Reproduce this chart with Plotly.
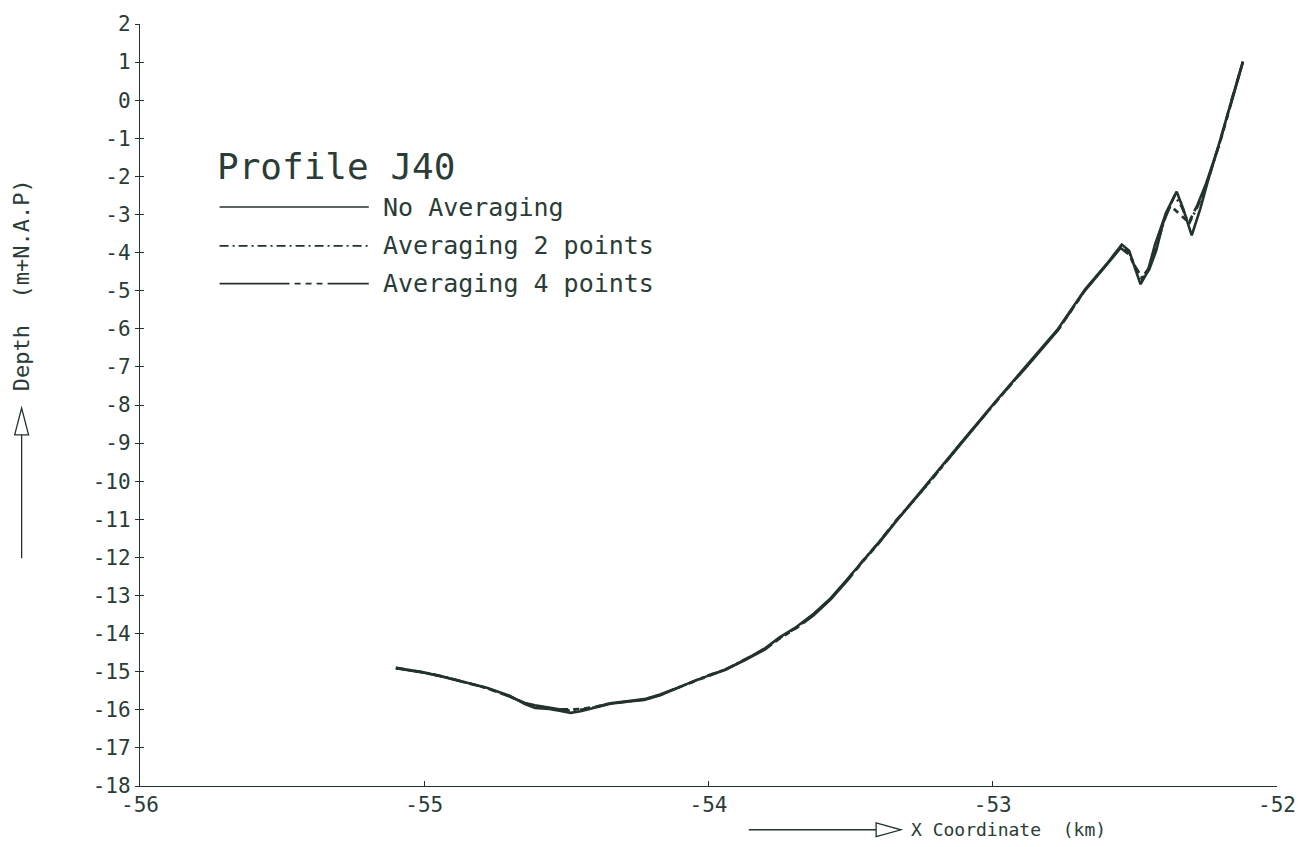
import plotly.graph_objects as go

# Profile J40: bed level along the section, three smoothing variants
x_none = [-55.10, -55.00, -54.93, -54.85, -54.78, -54.70, -54.646, -54.61, -54.56, -54.52,
          -54.485, -54.45, -54.40, -54.345, -54.28, -54.226, -54.17, -54.11, -54.05, -53.995,
          -53.94, -53.87, -53.80, -53.75, -53.69, -53.63, -53.57, -53.515, -53.456, -53.40,
          -53.34, -53.225, -53.11, -52.99, -52.885, -52.77, -52.675, -52.595, -52.546, -52.52,
          -52.50, -52.48, -52.455, -52.43, -52.39, -52.353, -52.33, -52.30, -52.27, -52.245,
          -52.20, -52.16, -52.12]
depth_none = [-14.90, -15.02, -15.14, -15.28, -15.42, -15.63, -15.85, -15.95, -15.98, -16.03,
              -16.08, -16.04, -15.95, -15.84, -15.78, -15.74, -15.62, -15.42, -15.24, -15.09,
              -14.95, -14.68, -14.38, -14.10, -13.82, -13.48, -13.07, -12.60, -12.10, -11.60,
              -11.05, -10.03, -8.98, -7.91, -7.00, -6.00, -4.96, -4.26, -3.79, -3.95,
              -4.40, -4.83, -4.50, -3.81, -2.95, -2.40, -2.85, -3.55, -2.85, -2.17,
              -1.05, 0.00, 1.02]

x_avg2 = [-55.10, -55.00, -54.93, -54.85, -54.78, -54.70, -54.646, -54.61, -54.56, -54.52,
          -54.485, -54.45, -54.40, -54.345, -54.28, -54.226, -54.17, -54.11, -54.05, -53.995,
          -53.94, -53.87, -53.80, -53.75, -53.69, -53.63, -53.57, -53.515, -53.456, -53.40,
          -53.34, -53.225, -53.11, -52.99, -52.885, -52.77, -52.675, -52.595, -52.55, -52.52,
          -52.50, -52.475, -52.45, -52.425, -52.39, -52.36, -52.335, -52.31, -52.28, -52.25,
          -52.20, -52.16, -52.12]
depth_avg2 = [-14.90, -15.02, -15.13, -15.28, -15.43, -15.64, -15.83, -15.90, -15.97, -16.01,
              -16.02, -16.00, -15.93, -15.83, -15.78, -15.73, -15.61, -15.43, -15.25, -15.08,
              -14.94, -14.68, -14.40, -14.12, -13.84, -13.50, -13.08, -12.62, -12.08, -11.60,
              -11.03, -10.05, -8.98, -7.93, -7.02, -6.02, -4.98, -4.27, -3.84, -4.00,
              -4.35, -4.65, -4.40, -3.85, -3.00, -2.50, -2.80, -3.25, -2.80, -2.25,
              -1.08, 0.00, 1.00]

x_avg4 = [-55.10, -55.00, -54.93, -54.85, -54.78, -54.70, -54.646, -54.61, -54.56, -54.52,
          -54.485, -54.45, -54.40, -54.345, -54.28, -54.226, -54.17, -54.11, -54.05, -53.995,
          -53.94, -53.87, -53.80, -53.75, -53.69, -53.63, -53.57, -53.515, -53.456, -53.40,
          -53.34, -53.225, -53.11, -52.99, -52.885, -52.77, -52.675, -52.595, -52.55, -52.52,
          -52.50, -52.475, -52.45, -52.425, -52.40, -52.375, -52.31, -52.28, -52.25,
          -52.20, -52.16, -52.12]
depth_avg4 = [-14.91, -15.03, -15.14, -15.29, -15.43, -15.65, -15.82, -15.88, -15.95, -15.99,
              -15.99, -15.98, -15.92, -15.83, -15.77, -15.72, -15.60, -15.43, -15.26, -15.09,
              -14.94, -14.69, -14.41, -14.13, -13.85, -13.52, -13.10, -12.64, -12.10, -11.62,
              -11.05, -10.04, -8.99, -7.92, -7.03, -6.03, -4.99, -4.29, -3.88, -4.05,
              -4.38, -4.70, -4.45, -3.95, -3.20, -2.77, -3.21, -2.75, -2.20,
              -1.10, -0.02, 1.00]

series_names = ["No Averaging", "Averaging 2 points", "Averaging 4 points"]
series_dash = ["solid", "9px,4px,2px,4px", "70px,5px,6px,5px,6px,5px,6px,5px"]

x_ticks = [-56, -55, -54, -53, -52]
x_tick_text = ["-56", "-55", "-54", "-53", "-52"]
y_ticks = list(range(2, -19, -1))
y_tick_text = [str(v) for v in y_ticks]

INK = "#22332f"
TEXT = "#2a3c38"
FONT = "DejaVu Sans Mono"

# plot-area geometry in pixels (used for the hand-drawn legend and arrows)
W, H = 1308, 847
L, R, T, B = 140, 25, 20, 61
PW, PH = W - L - R, H - T - B


def px(xp):
    return (xp - L) / PW


def py(yp):
    return (H - B - yp) / PH


fig = go.Figure()
for xs, ys, name, dash in zip([x_avg4, x_avg2, x_none], [depth_avg4, depth_avg2, depth_none],
                              series_names[::-1], series_dash[::-1]):
    fig.add_trace(go.Scatter(x=xs, y=ys, mode="lines", name=name,
                             line=dict(color=INK, width=2.6, dash=dash),
                             showlegend=False))

shapes = []
annotations = []

# legend: title, sample lines and labels
annotations.append(dict(x=px(215), y=py(163), xref="paper", yref="paper", text="Profile J40",
                        showarrow=False, xanchor="left", yanchor="middle",
                        font=dict(family=FONT, size=36, color=TEXT)))
for i, (name, dash) in enumerate(zip(series_names, series_dash)):
    yrow = [204, 243, 281][i]
    shapes.append(dict(type="line", xref="paper", yref="paper",
                       x0=px(220), x1=px(370), y0=py(yrow), y1=py(yrow),
                       line=dict(color=INK, width=1.6, dash=dash)))
    annotations.append(dict(x=px(382), y=py(yrow), xref="paper", yref="paper", text=name,
                            showarrow=False, xanchor="left", yanchor="middle",
                            font=dict(family=FONT, size=25, color=TEXT)))

# y-axis title with a hollow arrow pointing up
shapes.append(dict(type="line", xref="paper", yref="paper",
                   x0=px(21), x1=px(21), y0=py(557), y1=py(432),
                   line=dict(color=INK, width=1.3)))
shapes.append(dict(type="path", xref="paper", yref="paper",
                   path=f"M {px(14)},{py(433)} L {px(21)},{py(406)} L {px(28)},{py(433)} Z",
                   line=dict(color=INK, width=1.3), fillcolor="white"))
annotations.append(dict(x=px(21), y=py(283), xref="paper", yref="paper",
                        text="Depth  (m+N.A.P)", textangle=-90, showarrow=False,
                        xanchor="center", yanchor="middle",
                        font=dict(family=FONT, size=22, color=TEXT)))

# x-axis title with a hollow arrow pointing right
shapes.append(dict(type="line", xref="paper", yref="paper",
                   x0=px(752), x1=px(880), y0=py(830), y1=py(830),
                   line=dict(color=INK, width=1.3)))
shapes.append(dict(type="path", xref="paper", yref="paper",
                   path=f"M {px(880)},{py(823)} L {px(905)},{py(830)} L {px(880)},{py(837)} Z",
                   line=dict(color=INK, width=1.3), fillcolor="white"))
annotations.append(dict(x=px(913), y=py(830), xref="paper", yref="paper",
                        text="X Coordinate  (km)", showarrow=False,
                        xanchor="left", yanchor="middle",
                        font=dict(family=FONT, size=18, color=TEXT)))

axis_common = dict(showgrid=False, zeroline=False, showline=True, linecolor=INK,
                   linewidth=1.4, tickcolor=INK, tickwidth=1.2,
                   tickfont=dict(family=FONT, size=21, color=TEXT))

fig.update_layout(
    width=W, height=H,
    margin=dict(l=L, r=R, t=T, b=B),
    paper_bgcolor="white", plot_bgcolor="white",
    showlegend=False,
    shapes=shapes, annotations=annotations,
    xaxis=dict(range=[-56, -52], tickvals=x_ticks, ticktext=x_tick_text,
               ticks="inside", ticklen=5, **axis_common),
    yaxis=dict(range=[-18, 2], tickvals=y_ticks, ticktext=y_tick_text,
               ticks="outside", ticklen=4, **axis_common),
    yaxis2=dict(range=[-18, 2], overlaying="y", side="left", tickvals=y_ticks,
                showticklabels=False, ticks="inside", ticklen=4, showline=False,
                showgrid=False, zeroline=False, tickcolor=INK, tickwidth=1.2),
)
# invisible trace that anchors the secondary tick axis
fig.add_trace(go.Scatter(x=[-56], y=[-18], yaxis="y2", mode="markers",
                         marker=dict(opacity=0), hoverinfo="skip", showlegend=False))

fig.write_html("out.html")
